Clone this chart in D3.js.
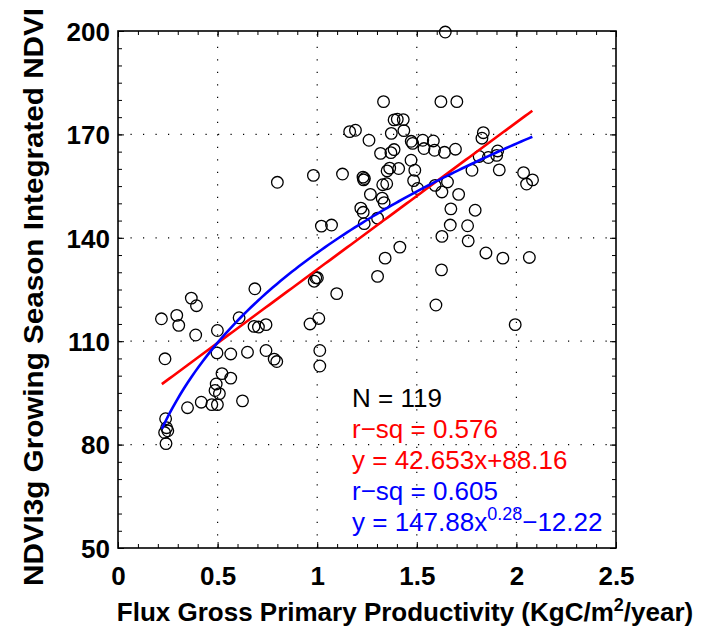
<!DOCTYPE html>
<html><head><meta charset="utf-8">
<script src="https://cdn.jsdelivr.net/npm/d3@7"></script>
<style>body{margin:0;background:#fff}svg{display:block}</style>
</head><body>
<svg id="c" width="702" height="630"></svg>
<script>
// ---- data ----
const gppX = [1.643,1.333,1.621,1.701,1.386,1.402,1.432,1.435,1.163,1.192,1.372,1.260,1.472,1.479,1.530,1.583,1.536,1.589,1.639,1.694,1.834,1.827,1.318,1.370,1.386,1.471,1.813,1.859,1.906,1.901,1.914,1.777,2.036,2.051,2.081,0.981,1.127,0.800,1.230,1.237,1.233,1.351,1.364,1.409,1.490,1.484,1.329,1.349,1.504,1.592,1.654,1.626,1.267,1.326,1.336,1.710,1.671,1.793,1.219,1.231,1.303,1.236,1.021,1.072,1.668,1.755,1.626,1.758,1.415,1.341,1.847,1.932,2.065,1.624,1.303,0.993,0.985,1.001,0.687,1.098,1.596,0.368,0.394,0.218,0.295,0.305,0.390,0.499,0.608,0.683,0.705,0.743,0.964,1.008,1.994,0.236,0.497,0.566,0.650,0.743,0.784,0.797,1.013,1.013,0.522,0.566,0.493,0.487,0.509,0.625,0.418,0.349,0.471,0.499,0.239,0.244,0.250,0.234,0.241];
const ndviY = [199.7,179.5,179.5,179.5,174.2,174.4,174.3,171.1,170.8,171.2,170.3,168.3,168.0,167.4,168.3,168.1,165.9,165.4,164.8,165.7,170.5,168.9,164.5,164.7,165.6,162.5,163.6,163.3,165.2,163.9,159.7,159.6,158.9,155.6,156.8,158.1,158.5,156.1,157.6,157.2,156.8,159.4,160.2,160.1,159.6,156.6,155.4,155.7,154.3,155.2,156.2,153.3,152.6,151.5,150.2,152.6,148.4,148.0,148.6,147.4,145.7,144.1,143.4,143.7,143.7,143.5,140.4,139.1,137.3,134.1,135.6,134.1,134.3,130.7,128.8,128.4,127.4,128.4,125.2,123.8,120.5,122.5,120.3,116.5,117.5,114.6,111.8,113.1,116.8,114.3,114.1,114.8,115.0,116.6,114.8,104.9,106.6,106.3,106.8,107.3,104.8,104.1,107.3,102.8,100.6,99.3,97.6,95.7,94.8,92.7,92.3,90.7,91.6,91.6,87.5,84.9,84.0,83.5,80.3];
const xTicks = [0, 0.5, 1, 1.5, 2, 2.5];
const xTickLabels = ["0", "0.5", "1", "1.5", "2", "2.5"];
const yTicks = [50, 80, 110, 140, 170, 200];
const yTickLabels = ["50", "80", "110", "140", "170", "200"];
const linCoef = [42.653, 88.16];          // y = a x + b
const powCoef = [147.88, 0.28, -12.22];   // y = a x^b + c
const fitRange = [0.22, 2.08];
const statsN = "119";
const rsqLin = "0.576";
const rsqPow = "0.605";

// ---- layout ----
const svg = d3.select("#c");
const L = 118, R = 616, T = 31, B = 548;
const x = d3.scaleLinear().domain([0, 2.5]).range([L, R]);
const y = d3.scaleLinear().domain([50, 200]).range([B, T]);
const FONT = "'Liberation Sans', Arial, Helvetica, sans-serif";

// grid
const grid = svg.append("g").attr("stroke", "#000").attr("stroke-width", 1.2)
  .attr("stroke-dasharray", "1.2,11.3");
xTicks.slice(1, -1).forEach(v => grid.append("line")
  .attr("x1", x(v)).attr("x2", x(v)).attr("y1", B).attr("y2", T));
yTicks.slice(1, -1).forEach(v => grid.append("line")
  .attr("y1", y(v)).attr("y2", y(v)).attr("x1", L).attr("x2", R));

// axes with inward ticks on all four sides
const minorX = d3.range(0, 2.5001, 0.1);
const minorY = d3.range(50, 200.001, 5);
const axB = svg.append("g").attr("transform", `translate(0,${B})`)
  .call(d3.axisTop(x).tickValues(minorX).tickSize(4).tickFormat(""));
const axT = svg.append("g").attr("transform", `translate(0,${T})`)
  .call(d3.axisBottom(x).tickValues(minorX).tickSize(4).tickFormat(""));
const axL = svg.append("g").attr("transform", `translate(${L},0)`)
  .call(d3.axisRight(y).tickValues(minorY).tickSize(4).tickFormat(""));
const axR = svg.append("g").attr("transform", `translate(${R},0)`)
  .call(d3.axisLeft(y).tickValues(minorY).tickSize(4).tickFormat(""));
[axB, axT, axL, axR].forEach(a => {
  a.select(".domain").remove();
  a.selectAll("line").attr("stroke", "#000").attr("stroke-width", 1);
});
svg.append("g").attr("transform", `translate(0,${B})`)
  .call(d3.axisTop(x).tickValues(xTicks).tickSize(6).tickFormat(""))
  .call(g => g.select(".domain").remove()).selectAll("line").attr("stroke", "#000");
svg.append("g").attr("transform", `translate(0,${T})`)
  .call(d3.axisBottom(x).tickValues(xTicks).tickSize(6).tickFormat(""))
  .call(g => g.select(".domain").remove()).selectAll("line").attr("stroke", "#000");
svg.append("g").attr("transform", `translate(${L},0)`)
  .call(d3.axisRight(y).tickValues(yTicks).tickSize(6).tickFormat(""))
  .call(g => g.select(".domain").remove()).selectAll("line").attr("stroke", "#000");
svg.append("g").attr("transform", `translate(${R},0)`)
  .call(d3.axisLeft(y).tickValues(yTicks).tickSize(6).tickFormat(""))
  .call(g => g.select(".domain").remove()).selectAll("line").attr("stroke", "#000");

// tick labels
const xl = svg.append("g").attr("transform", `translate(0,${B})`)
  .call(d3.axisBottom(x).tickValues(xTicks).tickSize(0).tickPadding(0)
    .tickFormat((d, i) => xTickLabels[i]));
xl.select(".domain").remove();
xl.selectAll("text").attr("dy", 0).attr("y", 37)
  .attr("font-family", FONT).attr("font-weight", "bold").attr("font-size", 26).attr("fill", "#000");
const yl = svg.append("g").attr("transform", `translate(${L},0)`)
  .call(d3.axisLeft(y).tickValues(yTicks).tickSize(0).tickPadding(8)
    .tickFormat((d, i) => yTickLabels[i]));
yl.select(".domain").remove();
yl.selectAll("text").attr("dy", "0.36em")
  .attr("font-family", FONT).attr("font-weight", "bold").attr("font-size", 26).attr("fill", "#000");

// points
svg.append("g").selectAll("circle").data(gppX.map((v, i) => [v, ndviY[i]])).join("circle")
  .attr("cx", d => x(d[0])).attr("cy", d => y(d[1])).attr("r", 5.8)
  .attr("fill", "none").attr("stroke", "#000").attr("stroke-width", 1.3);

// fitted curves
const xs = d3.range(fitRange[0], fitRange[1] + 1e-9, (fitRange[1] - fitRange[0]) / 100);
const line = d3.line().x(d => x(d[0])).y(d => y(d[1]));
svg.append("path").datum(xs.map(v => [v, linCoef[0] * v + linCoef[1]]))
  .attr("d", line).attr("fill", "none").attr("stroke", "#ff0000").attr("stroke-width", 2.6);
svg.append("path").datum(xs.map(v => [v, powCoef[0] * Math.pow(v, powCoef[1]) + powCoef[2]]))
  .attr("d", line).attr("fill", "none").attr("stroke", "#0000ff").attr("stroke-width", 2.6);

// frame
svg.append("rect").attr("x", L).attr("y", T).attr("width", R - L).attr("height", B - T)
  .attr("fill", "none").attr("stroke", "#000").attr("stroke-width", 1.6);

// annotation
const ann = svg.append("g").attr("font-family", FONT).attr("font-size", 26);
const ax0 = 352, ay0 = 407, dyA = 31;
ann.append("text").attr("x", ax0).attr("y", ay0).attr("fill", "#000").text("N = " + statsN);
ann.append("text").attr("x", ax0).attr("y", ay0 + dyA).attr("fill", "#ff0000").text("r\u2212sq = " + rsqLin);
ann.append("text").attr("x", ax0).attr("y", ay0 + 2 * dyA).attr("fill", "#ff0000")
  .text(`y = ${linCoef[0]}x+${linCoef[1]}`);
ann.append("text").attr("x", ax0).attr("y", ay0 + 3 * dyA).attr("fill", "#0000ff").text("r\u2212sq = " + rsqPow);
const t5 = ann.append("text").attr("x", ax0).attr("y", ay0 + 4 * dyA).attr("fill", "#0000ff");
t5.append("tspan").text(`y = ${powCoef[0]}x`);
t5.append("tspan").attr("dy", -11).attr("font-size", 18).text(String(powCoef[1]));
t5.append("tspan").attr("dy", 11).text("\u2212" + Math.abs(powCoef[2]));

// axis titles
const xt = svg.append("text").attr("x", 405).attr("y", 621).attr("text-anchor", "middle")
  .attr("font-family", FONT).attr("font-weight", "bold").attr("font-size", 26).attr("fill", "#000");
xt.append("tspan").text("Flux Gross Primary Productivity (KgC/m");
xt.append("tspan").attr("dy", -10).attr("font-size", 18).text("2");
xt.append("tspan").attr("dy", 10).text("/year)");
svg.append("text").attr("transform", "translate(43,297) rotate(-90)").attr("text-anchor", "middle")
  .attr("font-family", FONT).attr("font-weight", "bold").attr("font-size", 28).attr("fill", "#000")
  .attr("textLength", 578).attr("lengthAdjust", "spacingAndGlyphs")
  .text("NDVI3g Growing Season Integrated NDVI");
</script>
</body></html>
